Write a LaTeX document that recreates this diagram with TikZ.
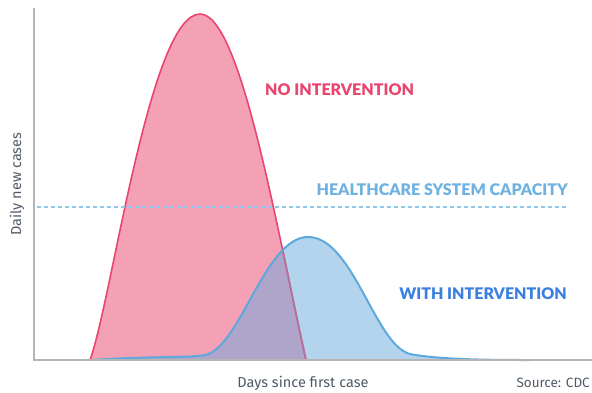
\documentclass[tikz,border=0pt]{standalone}
\usepackage{fontspec}
\setmainfont{Fira Sans}
\newfontfamily\headfont{Lato Black}
\definecolor{axisgray}{HTML}{B4B4B4}
\definecolor{textgray}{HTML}{4F5A66}
\definecolor{pinkline}{HTML}{E8456F}
\definecolor{pinkfill}{HTML}{F4A1B6}
\definecolor{bluefill}{HTML}{B3D4EC}
\definecolor{blueline}{HTML}{5DA9DD}
\definecolor{overlap}{HTML}{AFA4C9}
\definecolor{mauve}{HTML}{B2739E}
\definecolor{caplabel}{HTML}{6FB1E1}
\definecolor{capline}{HTML}{8EC6EE}
\definecolor{withlabel}{HTML}{3B80E0}
\begin{document}
\begin{tikzpicture}[x=1pt,y=-1pt,
  axis/.style={draw=axisgray,line width=1.2pt},
  headlabel/.style={font=\headfont\fontsize{16}{16}\selectfont,inner sep=0pt},
  axlabel/.style={font=\fontsize{14.5}{14.5}\selectfont,text=textgray,inner sep=0pt}]
\useasboundingbox (0,0) rectangle (592,392);
% fills
\fill[pinkfill] (90,360) .. controls (112,300) and (150,14) .. (200,14) .. controls (240,14) and (275,220) .. (306,360) -- cycle;
\fill[bluefill] (92,360) .. controls (150,356) and (190,358) .. (205,355) .. controls (240,348) and (265,237) .. (308,237) .. controls (353,237) and (375,345) .. (410,354) .. controls (440,360) and (500,360) .. (530,360) -- cycle;
\begin{scope}
  \clip (90,360) .. controls (112,300) and (150,14) .. (200,14) .. controls (240,14) and (275,220) .. (306,360) -- cycle;
  \fill[overlap] (92,360) .. controls (150,356) and (190,358) .. (205,355) .. controls (240,348) and (265,237) .. (308,237) .. controls (353,237) and (375,345) .. (410,354) .. controls (440,360) and (500,360) .. (530,360) -- cycle;
\end{scope}
% pink stroke
\draw[pinkline,line width=1.6pt] (90,360) .. controls (112,300) and (150,14) .. (200,14) .. controls (240,14) and (275,220) .. (306,360);
\begin{scope}
  \clip (92,360) .. controls (150,356) and (190,358) .. (205,355) .. controls (240,348) and (265,237) .. (308,237) .. controls (353,237) and (375,345) .. (410,354) .. controls (440,360) and (500,360) .. (530,360) -- cycle;
  \draw[mauve,line width=1.6pt] (90,360) .. controls (112,300) and (150,14) .. (200,14) .. controls (240,14) and (275,220) .. (306,360);
\end{scope}
% blue stroke
\draw[blueline,line width=2pt] (92,360) .. controls (150,356) and (190,358) .. (205,355) .. controls (240,348) and (265,237) .. (308,237) .. controls (353,237) and (375,345) .. (410,354) .. controls (440,360) and (500,360) .. (530,360);
% axes
\coordinate (top) at (34,8);
\coordinate (origin) at (34,360);
\coordinate (right) at (592,360);
\draw[axis] (top) -- (origin) -- (right);
% capacity line
\coordinate (capL) at (37,207);
\coordinate (capR) at (567,207);
\draw[capline,line width=1.1pt,dash pattern=on 4pt off 3pt] (capL) -- (capR);
% labels
\node[headlabel,text=pinkline,anchor=west] (noint) at (265,90) {NO INTERVENTION};
\node[headlabel,text=caplabel,anchor=east] (cap) at (568,190) {HEALTHCARE SYSTEM CAPACITY};
\node[headlabel,text=withlabel,anchor=east] (withint) at (567,294) {WITH INTERVENTION};
\node[axlabel,rotate=90] (ylab) at (17,184) {Daily new cases};
\node[axlabel] (xlab) at (303,383) {Days since first case};
\node[axlabel,anchor=east,font=\fontsize{13.5}{13.5}\selectfont] (src) at (590,383) {Source: CDC};
\end{tikzpicture}
\end{document}
